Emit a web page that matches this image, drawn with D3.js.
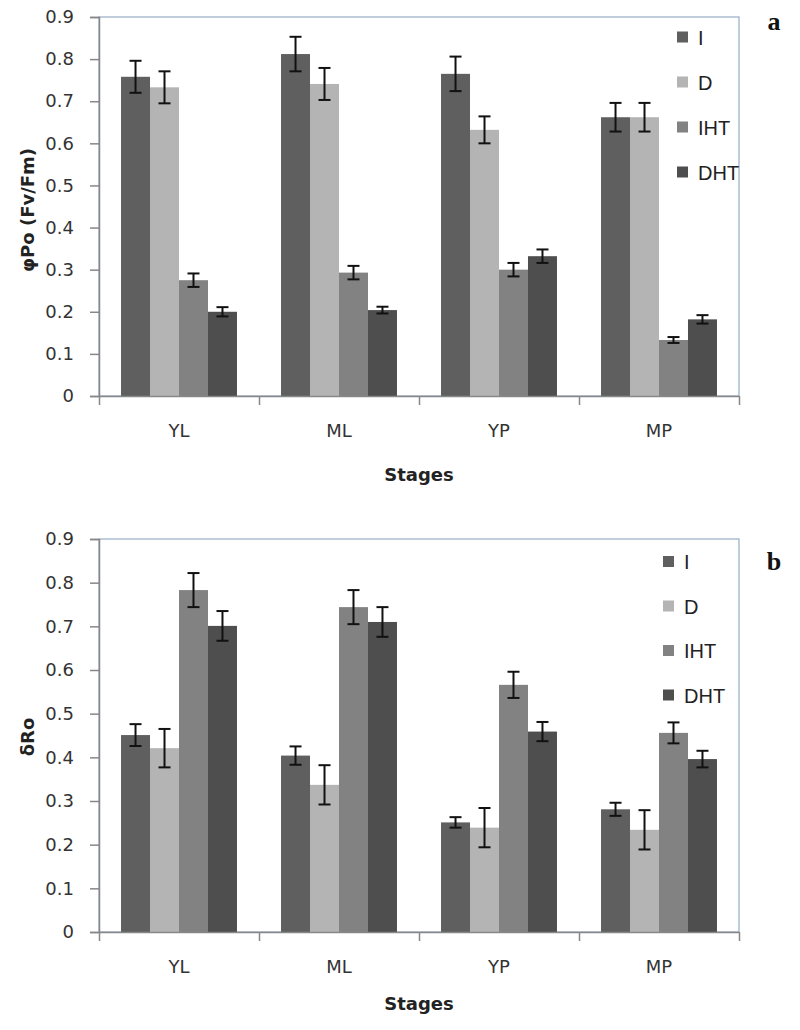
<!DOCTYPE html>
<html>
<head>
<meta charset="utf-8">
<script src="https://cdn.jsdelivr.net/npm/d3@7"></script>
<style>
  html, body { margin: 0; padding: 0; background: #ffffff; }
  svg { display: block; }
</style>
</head>
<body>
<script>
// ---------------- DATA ----------------
const stages = ["YL", "ML", "YP", "MP"];
const treatments = ["I", "D", "IHT", "DHT"];
const yTickValues = [0, 0.1, 0.2, 0.3, 0.4, 0.5, 0.6, 0.7, 0.8, 0.9];
const yTickLabels = ["0", "0.1", "0.2", "0.3", "0.4", "0.5", "0.6", "0.7", "0.8", "0.9"];

// Panel a: φPo (Fv/Fm)
const phiPo_I   = [0.758, 0.812, 0.765, 0.662];
const phiPo_D   = [0.733, 0.741, 0.632, 0.662];
const phiPo_IHT = [0.275, 0.293, 0.300, 0.133];
const phiPo_DHT = [0.200, 0.204, 0.332, 0.182];
const phiPoErr_I   = [0.038, 0.041, 0.041, 0.034];
const phiPoErr_D   = [0.038, 0.038, 0.032, 0.034];
const phiPoErr_IHT = [0.016, 0.016, 0.016, 0.007];
const phiPoErr_DHT = [0.011, 0.008, 0.016, 0.010];

// Panel b: δRo
const deltaRo_I   = [0.451, 0.404, 0.251, 0.281];
const deltaRo_D   = [0.421, 0.337, 0.239, 0.234];
const deltaRo_IHT = [0.783, 0.744, 0.566, 0.456];
const deltaRo_DHT = [0.701, 0.710, 0.459, 0.396];
const deltaRoErr_I   = [0.025, 0.021, 0.012, 0.015];
const deltaRoErr_D   = [0.044, 0.045, 0.045, 0.045];
const deltaRoErr_IHT = [0.039, 0.039, 0.030, 0.024];
const deltaRoErr_DHT = [0.034, 0.034, 0.022, 0.019];

const seriesColors = ["#5f5f5f", "#b4b4b4", "#828282", "#4e4e4e"];

// ---------------- DRAW ----------------
const W = 800, H = 1030;
const svg = d3.select("body").append("svg").attr("width", W).attr("height", H);

function buildRows(vals, errs) {
  const rows = [];
  stages.forEach((s, i) => {
    treatments.forEach((t, j) => {
      rows.push({ stage: s, treatment: t, value: vals[j][i], err: errs[j][i] });
    });
  });
  return rows;
}

function drawPanel(opts) {
  const left = 99, right = 739;
  const top = opts.top, bottom = opts.bottom;
  const g = svg.append("g");

  const x0 = d3.scaleBand().domain(stages).range([left, right]).padding(0);
  const x1 = d3.scaleBand().domain(treatments).range([0, x0.bandwidth()])
    .paddingInner(0).paddingOuter(0.76);
  const y = d3.scaleLinear().domain([0, 0.9]).range([bottom, top]);
  const color = d3.scaleOrdinal().domain(treatments).range(seriesColors);

  // plot frame (top/right bluish)
  g.append("rect")
    .attr("x", left).attr("y", top)
    .attr("width", right - left).attr("height", bottom - top)
    .attr("fill", "none").attr("stroke", "#9db3cc").attr("stroke-width", 1.3);

  const rows = buildRows(opts.values, opts.errors);

  // bars
  g.selectAll("rect.bar").data(rows).enter().append("rect")
    .attr("class", "bar")
    .attr("x", d => x0(d.stage) + x1(d.treatment))
    .attr("y", d => y(d.value))
    .attr("width", x1.bandwidth())
    .attr("height", d => y(0) - y(d.value))
    .attr("fill", d => color(d.treatment));

  // error bars
  const capHalf = 6;
  const eb = g.selectAll("g.err").data(rows).enter().append("g").attr("class", "err")
    .attr("stroke", "#111").attr("stroke-width", 2);
  eb.append("line")
    .attr("x1", d => x0(d.stage) + x1(d.treatment) + x1.bandwidth() / 2)
    .attr("x2", d => x0(d.stage) + x1(d.treatment) + x1.bandwidth() / 2)
    .attr("y1", d => y(d.value + d.err))
    .attr("y2", d => y(d.value - d.err));
  eb.append("line")
    .attr("x1", d => x0(d.stage) + x1(d.treatment) + x1.bandwidth() / 2 - capHalf)
    .attr("x2", d => x0(d.stage) + x1(d.treatment) + x1.bandwidth() / 2 + capHalf)
    .attr("y1", d => y(d.value + d.err))
    .attr("y2", d => y(d.value + d.err));
  eb.append("line")
    .attr("x1", d => x0(d.stage) + x1(d.treatment) + x1.bandwidth() / 2 - capHalf)
    .attr("x2", d => x0(d.stage) + x1(d.treatment) + x1.bandwidth() / 2 + capHalf)
    .attr("y1", d => y(d.value - d.err))
    .attr("y2", d => y(d.value - d.err));

  // y axis
  const yAxis = d3.axisLeft(y).tickValues(yTickValues)
    .tickFormat((d, i) => yTickLabels[i]).tickSize(9).tickPadding(16);
  const ya = g.append("g").attr("transform", `translate(${left},0)`).call(yAxis);
  ya.select(".domain").attr("stroke", "#878787").attr("stroke-width", 1.5);
  ya.selectAll(".tick line").attr("stroke", "#878787").attr("stroke-width", 1.5);
  ya.selectAll(".tick text")
    .attr("font-family", "'DejaVu Sans', sans-serif").attr("font-size", 18)
    .attr("fill", "#333");

  // x axis: boundary ticks
  const xb = d3.scaleLinear().domain([0, stages.length]).range([left, right]);
  const xAxisTicks = d3.axisBottom(xb).tickValues(d3.range(0, stages.length + 1))
    .tickFormat("").tickSize(9).tickSizeOuter(0);
  const xa = g.append("g").attr("transform", `translate(0,${bottom})`).call(xAxisTicks);
  xa.select(".domain").attr("stroke", "#878787").attr("stroke-width", 1.5);
  xa.selectAll(".tick line").attr("stroke", "#878787").attr("stroke-width", 1.5);

  // x axis: category labels
  const xAxisLabels = d3.axisBottom(x0).tickSize(0).tickPadding(opts.catPad);
  const xl = g.append("g").attr("transform", `translate(0,${bottom})`).call(xAxisLabels);
  xl.select(".domain").remove();
  xl.selectAll(".tick text")
    .attr("font-family", "'DejaVu Sans', sans-serif").attr("font-size", 18)
    .attr("fill", "#333");

  // x title
  g.append("text")
    .attr("x", (left + right) / 2).attr("y", opts.stagesY)
    .attr("text-anchor", "middle")
    .attr("font-family", "'DejaVu Sans', sans-serif").attr("font-size", 18)
    .attr("font-weight", "bold").attr("fill", "#222")
    .text("Stages");

  // y title
  g.append("text")
    .attr("transform", `translate(${opts.yTitleX},${opts.yTitleY}) rotate(-90)`)
    .attr("text-anchor", "middle")
    .attr("font-family", "'DejaVu Sans', sans-serif").attr("font-size", 18)
    .attr("font-weight", "bold").attr("fill", "#222")
    .text(opts.yTitle);

  // legend
  const lg = g.selectAll("g.leg").data(treatments).enter().append("g").attr("class", "leg")
    .attr("transform", (d, i) => `translate(${opts.legX},${opts.legY + i * opts.legStep})`);
  lg.append("rect").attr("x", 0).attr("y", -6).attr("width", 11).attr("height", 11)
    .attr("fill", d => color(d));
  lg.append("text").attr("x", 21).attr("y", 7)
    .attr("font-family", "'Liberation Sans', Arial, sans-serif").attr("font-size", 20)
    .attr("fill", "#222")
    .text(d => d);

  // panel letter
  g.append("text")
    .attr("x", 774).attr("y", opts.letterY)
    .attr("text-anchor", "middle")
    .attr("font-family", "'Liberation Serif', 'Times New Roman', serif")
    .attr("font-size", 26).attr("font-weight", "bold").attr("fill", "#111")
    .text(opts.letter);
}

drawPanel({
  top: 17, bottom: 396,
  values: [phiPo_I, phiPo_D, phiPo_IHT, phiPo_DHT],
  errors: [phiPoErr_I, phiPoErr_D, phiPoErr_IHT, phiPoErr_DHT],
  catPad: 28, stagesY: 481,
  yTitle: "φPo (Fv/Fm)", yTitleX: 34, yTitleY: 210,
  legX: 677, legY: 37.5, legStep: 45,
  letter: "a", letterY: 30
});

drawPanel({
  top: 539, bottom: 932,
  values: [deltaRo_I, deltaRo_D, deltaRo_IHT, deltaRo_DHT],
  errors: [deltaRoErr_I, deltaRoErr_D, deltaRoErr_IHT, deltaRoErr_DHT],
  catPad: 28, stagesY: 1010,
  yTitle: "δRo", yTitleX: 34, yTitleY: 737,
  legX: 663, legY: 562, legStep: 44.5,
  letter: "b", letterY: 570
});
</script>
</body>
</html>
